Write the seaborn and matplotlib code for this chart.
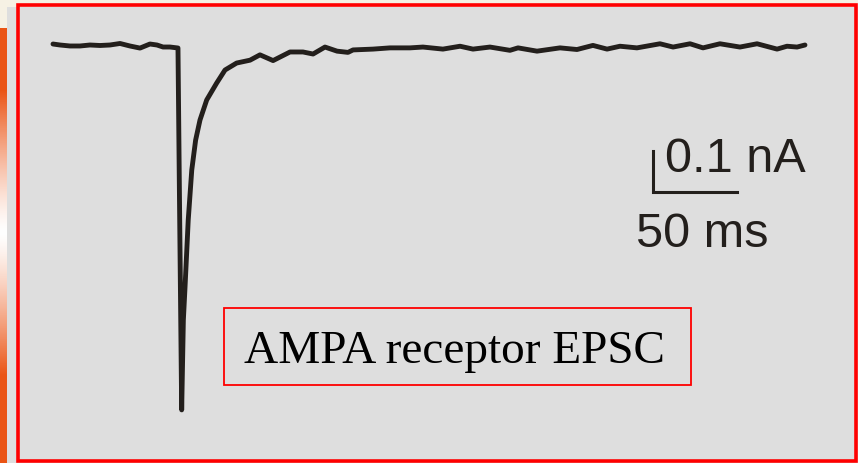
import numpy as np
import pandas as pd
import matplotlib
matplotlib.use("Agg")
import matplotlib.pyplot as plt
import seaborn as sns
from matplotlib.patches import Rectangle

# ---------------- data ----------------
time_ms = [-75.6, -71.4, -65.5, -59.5, -53.6, -47.6, -41.7, -35.7, -29.8, -23.8,
           -17.9, -13.7, -10.1, -6.0, -1.2, -0.3, 1.0, 2.0, 3.0, 4.9,
           7.0, 9.3, 11.9, 15.9, 21.8, 26.8, 33.7, 41.7, 47.6, 55.4,
           65.5, 73.2, 79.2, 86.3, 93.5, 100.0, 103.0, 114.9, 125.0, 136.9,
           144.6, 156.5, 166.7, 174.4, 184.5, 196.4, 201.2, 212.5, 226.2, 236.3,
           245.8, 254.2, 261.9, 272.0, 285.7, 293.5, 303.6, 311.3, 321.4, 333.3,
           343.5, 355.4, 361.3, 367.3, 372.0]
current_pA = [2.4, 0, -2.4, -2.4, 0, -1.2, 0, 3.7, -2.4, -7.5,
              2.4, 0, -4.9, -4.9, -7.3, -378, -890, -671, -590, -427,
              -305, -232, -183, -134, -93, -61, -44, -37, -24, -38,
              -17, -17, -22, -5, -15, -18, -12, -10, -7, -7,
              -5, -10, -3, -10, -5, -13, -7, -15, -7, -11,
              -1, -10, -3, -7, 3, -5, 3, -7, 3, -5,
              3, -10, -3, -5, 0]

scale_time_ms = 50
scale_current_pA = 100
scale_labels = ["0.1 nA", "50 ms"]
title_label = "AMPA receptor EPSC"

df = pd.DataFrame({"t": time_ms, "i": current_pA})

# ---------------- figure ----------------
W, H = 858, 463
fig = plt.figure(figsize=(W / 100, H / 100), dpi=100)
fig.patch.set_facecolor("#f6f1e4")

# background layer in pixel coordinates
bg = fig.add_axes([0, 0, 1, 1], zorder=0)
bg.set_xlim(0, W)
bg.set_ylim(H, 0)
bg.axis("off")
bg.add_patch(Rectangle((7, 7), W - 7, H - 7, facecolor="#dedede", edgecolor="none"))
# orange gradient strip on the left
ys = np.linspace(0, 1, 200)
grad = np.ones((200, 1, 3))
prof = np.clip(np.abs(ys - 0.47) / 0.33, 0, 1) ** 1.3
orange = np.array([0.92, 0.33, 0.08])
for k in range(200):
    grad[k, 0, :] = (1 - prof[k]) * np.array([1, 1, 1]) + prof[k] * orange
bg.imshow(grad, extent=(0, 7, H, 28), aspect="auto", zorder=1)
bg.add_patch(Rectangle((17.5, 4.5), W - 19.5, H - 6.5, facecolor="none",
                       edgecolor="#ff0000", linewidth=2.6, zorder=3))

# main axes mapped so that data units line up with the panel
ax = fig.add_axes([0, 0, 1, 1], zorder=1)
ax.patch.set_alpha(0)
ax.set_xlim(-107.14, 403.57)
ax.set_ylim(-1019.5, 109.76)
ax.axis("off")

sns.lineplot(data=df, x="t", y="i", ax=ax, sort=False, estimator=None,
             color="#231f1c", linewidth=3.5)
ax.lines[0].set_solid_joinstyle("round")
ax.lines[0].set_solid_capstyle("round")

# scale bar
x0, y0 = 281.5, -358.5
ax.plot([x0, x0, x0 + scale_time_ms], [y0 + scale_current_pA, y0, y0],
        color="#231f1c", linewidth=2.2, solid_joinstyle="miter")

# labels (pixel coords on background axes)
bg.text(665, 172, scale_labels[0], fontsize=35, family="Liberation Sans",
        color="#231f1c", ha="left", va="baseline", zorder=4)
bg.text(636, 247, scale_labels[1], fontsize=35, family="Liberation Sans",
        color="#231f1c", ha="left", va="baseline", zorder=4)

bg.add_patch(Rectangle((223.5, 308), 467.5, 77, facecolor="none",
                       edgecolor="#ff0000", linewidth=1.3, zorder=3))
bg.text(454, 363, title_label, fontsize=34, family="Liberation Serif",
        color="black", ha="center", va="baseline", zorder=4)

fig.savefig("out.png", dpi=100, facecolor=fig.get_facecolor())
